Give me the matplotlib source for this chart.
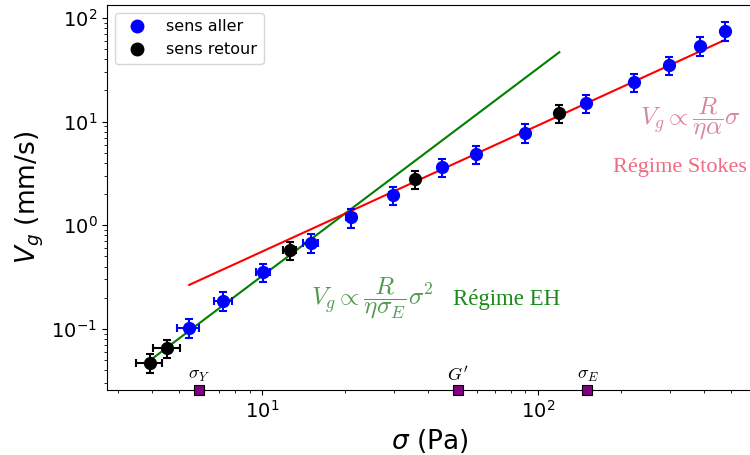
import matplotlib
matplotlib.use('Agg')
import matplotlib.pyplot as plt
import numpy as np

# sens aller (blue)
sig_aller = [5.41, 7.22, 10.1, 15.0, 21.0, 29.9, 44.8, 59.7, 89.5, 149, 223, 298, 387, 476]
vg_aller = [0.103, 0.188, 0.356, 0.681, 1.19, 1.96, 3.63, 4.88, 7.83, 15.0, 24.2, 35.2, 54.1, 75.5]
sigerr_aller = [0.5, 0.55, 0.6, 0.9, 0.9, 1.0, 1.0, 1.0, 1.0, 1.0, 1.0, 1.0, 1.0, 1.0]
vgerr_aller = [0.021, 0.038, 0.071, 0.136, 0.24, 0.39, 0.73, 0.98, 1.57, 3.0, 4.8, 7.0, 10.8, 15.1]

# sens retour (black)
sig_retour = [3.91, 4.52, 12.6, 35.8, 119.4]
vg_retour = [0.0474, 0.0658, 0.579, 2.78, 12.0]
sigerr_retour = [0.43, 0.5, 0.7, 1.0, 1.0]
vgerr_retour = [0.0095, 0.013, 0.116, 0.56, 2.4]

# fit lines (end points)
sig_stokes = [5.44, 476]
vg_stokes = [0.266, 61.4]
sig_eh = [3.91, 119.4]
vg_eh = [0.0495, 46.7]

# characteristic stresses
sig_marks = [5.91, 51.2, 151]
mark_labels = [r'$\sigma_Y$', r"$G'$", r'$\sigma_E$']

fig = plt.figure(figsize=(7.5, 4.55), dpi=100)
ax = fig.add_axes([0.1427, 0.1429, 0.860, 0.846])

ax.plot(sig_eh, vg_eh, color='green', lw=1.5, zorder=2)
ax.plot(sig_stokes, vg_stokes, color='red', lw=1.5, zorder=2)

ax.errorbar(sig_aller, vg_aller, xerr=sigerr_aller, yerr=vgerr_aller, fmt='o',
            color='blue', ms=8.5, elinewidth=1.5, capsize=3, capthick=1.5, zorder=3)
ax.errorbar(sig_retour, vg_retour, xerr=sigerr_retour, yerr=vgerr_retour, fmt='o',
            color='black', ms=8.5, elinewidth=1.5, capsize=3, capthick=1.5, zorder=3)

# legend handles only show dots
ax.plot([], [], 'o', color='blue', ms=9, label='sens aller')
ax.plot([], [], 'o', color='black', ms=9, label='sens retour')

ax.set_xscale('log')
ax.set_yscale('log')
ax.set_xlim(2.74, 596)
ax.set_ylim(0.0258, 133)

ybot = ax.get_ylim()[0]
for s, lab in zip(sig_marks, mark_labels):
    ax.plot(s, ybot, 's', color='purple', mec='black', mew=0.8, ms=7,
            clip_on=False, zorder=5)
    ax.annotate(lab, (s, ybot), xytext=(0, 4), textcoords='offset points',
                ha='center', va='bottom', fontsize=13, math_fontfamily='cm')

ax.text(0.411, 0.239, r'$V_g \propto \dfrac{R}{\eta\sigma_E}\sigma^2$', transform=ax.transAxes,
        fontsize=18, color='#4f9a4f', ha='center', va='center', math_fontfamily='cm')
ax.text(0.62, 0.234, 'Régime EH', transform=ax.transAxes, fontsize=16.5,
        color='#1a8c1a', ha='center', va='center', family='Liberation Serif')
ax.text(0.904, 0.706, r'$V_g \propto \dfrac{R}{\eta\alpha}\sigma$', transform=ax.transAxes,
        fontsize=18, color='#d9859a', ha='center', va='center', math_fontfamily='cm')
ax.text(0.888, 0.579, 'Régime Stokes', transform=ax.transAxes, fontsize=16,
        color='#f06a82', ha='center', va='center', family='Liberation Serif')

ax.set_xlabel(r'$\sigma$ (Pa)', fontsize=19)
ax.set_ylabel(r'$V_g$ (mm/s)', fontsize=19)
ax.tick_params(labelsize=14)
ax.legend(loc='upper left', fontsize=11.5)

fig.savefig('out.png', dpi=100)
